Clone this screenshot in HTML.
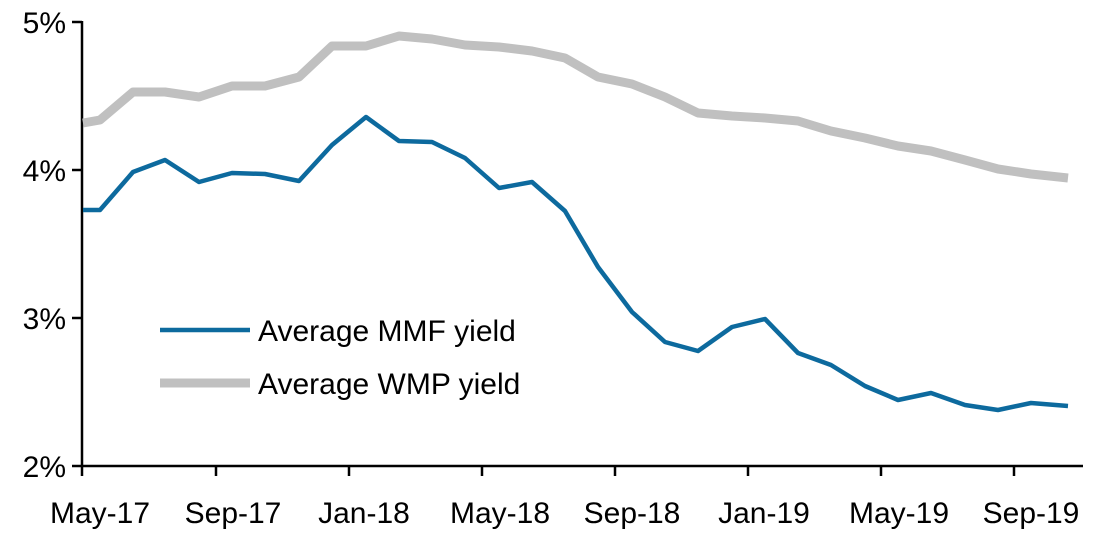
<!DOCTYPE html>
<html><head><style>body{margin:0;background:#fff}svg{display:block}text{font-family:"Liberation Sans",sans-serif;fill:#000}</style></head>
<body>
<svg width="1093" height="540" viewBox="0 0 1093 540">
<g stroke="#000" stroke-width="2.5">
<line x1="82" y1="21" x2="82" y2="467"/>
<line x1="72" y1="466" x2="1083" y2="466"/>
<line x1="72" y1="22" x2="82" y2="22"/>
<line x1="72" y1="170" x2="82" y2="170"/>
<line x1="72" y1="318" x2="82" y2="318"/>
<line x1="82" y1="466" x2="82" y2="476"/>
<line x1="216" y1="466" x2="216" y2="476"/>
<line x1="349" y1="466" x2="349" y2="476"/>
<line x1="482" y1="466" x2="482" y2="476"/>
<line x1="615" y1="466" x2="615" y2="476"/>
<line x1="748" y1="466" x2="748" y2="476"/>
<line x1="881" y1="466" x2="881" y2="476"/>
<line x1="1014" y1="466" x2="1014" y2="476"/>
</g>
<g font-size="30" text-anchor="end">
<text x="66" y="33">5%</text><text x="66" y="181">4%</text><text x="66" y="329">3%</text><text x="66" y="477">2%</text>
</g>
<g font-size="30" text-anchor="middle">
<text x="100" y="523">May-17</text><text x="233" y="523">Sep-17</text><text x="364" y="523">Jan-18</text><text x="500" y="523">May-18</text><text x="632" y="523">Sep-18</text><text x="764" y="523">Jan-19</text><text x="899" y="523">May-19</text><text x="1031" y="523">Sep-19</text>
</g>
<polyline fill="none" stroke="#c0c0c0" stroke-width="9" stroke-linejoin="round" points="83,123 100,120 133,92 165,92 199,97 232,86 265,86 299,77 332,46 366,46 399,36 432,39 465,45 499,47 532,51 565,58 598,77 632,84 665,97 698,113 732,116 765,118 798,121 831,131 865,138 898,146 931,151 965,160 998,169 1031,174 1068,178"/>
<polyline fill="none" stroke="#0d6a9e" stroke-width="4.5" stroke-linejoin="round" points="83,210 100,210 133,172 165,160 199,182 232,173 265,174 299,181 332,145 366,117 399,141 432,142 465,158 499,188 532,182 565,211 598,267 632,312 665,342 698,351 732,327 765,319 798,353 831,365 865,386 898,400 931,393 965,405 998,410 1031,403 1068,406"/>
<line x1="160" y1="330" x2="250" y2="330" stroke="#0d6a9e" stroke-width="4.5"/>
<line x1="160" y1="383" x2="250" y2="383" stroke="#c0c0c0" stroke-width="9"/>
<g font-size="30"><text x="258" y="341">Average MMF yield</text><text x="258" y="394">Average WMP yield</text></g>
</svg>
</body></html>
